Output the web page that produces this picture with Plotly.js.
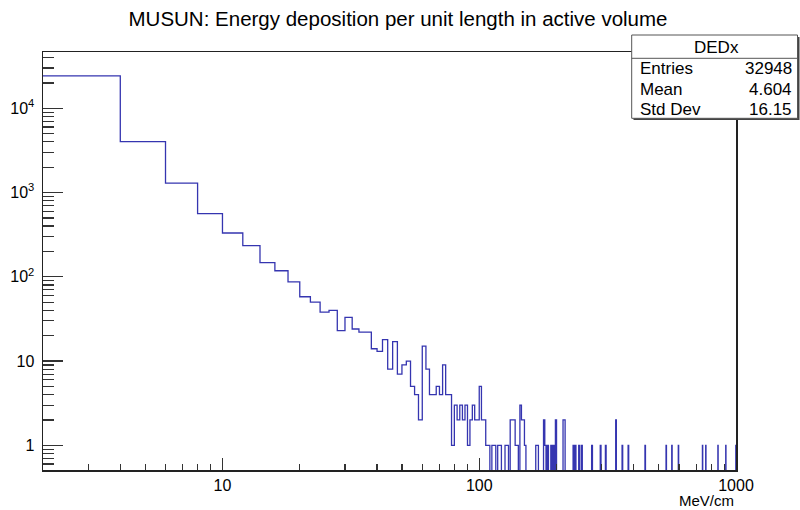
<!DOCTYPE html>
<html><head><meta charset="utf-8">
<script src="https://cdn.plot.ly/plotly-3.0.1.min.js"></script>
<style>html,body{margin:0;padding:0;background:#fff;} #chart{width:800px;height:510px;}</style>
</head><body><div id="chart"></div>
<script>
// ---- histogram binning (MeV/cm) ----
const firstEdge = 2;
const lastEdge = 1000;
const binWidth = 2;

// counts of the bins starting at 2, 4, 6, ..., 108 MeV/cm
const lowBinCounts = [24200,4020,1290,561,331,234,147,118,87,58,50,38,40,23,33,24,22,22,14,13,
  18,8,17,7,9,10,5,4,2,15,8,4,4,5,4,9,4,4,1,3,2,3,2,3,1,2,3,2,2,5,2,2,1,1];

// non-empty bins above 110 MeV/cm: lower bin edge and count (all other bins are empty)
const hiBinStart = [112,114,118,120,126,128,132,134,136,138,140,144,146,148,150,166,168,178,180,184,
  190,194,198,212,214,232,236,244,250,274,296,310,340,360,380,442,534,562,596,740,762,850,912,998];
const hiCounts   = [1,1,1,1,1,1,2,2,2,1,1,3,2,2,1,1,1,2,1,1,
  1,1,2,2,2,1,1,1,1,1,1,1,2,1,1,1,1,1,1,1,1,1,1,1];

// stats box
const statsName = 'DEDx';
const statsLabels = ['Entries','Mean','Std Dev'];
const statsValues = ['32948','4.604','16.15'];

const titleText = 'MUSUN: Energy deposition per unit length in active volume';
const xTitle = 'MeV/cm';
const xTickVals = [10,100,1000];
const xTickText = ['10','100','1000'];
const yTickVals = [1,10,100,1000,10000];
const yTickText = ['1','10','10<sup>2</sup>','10<sup>3</sup>','10<sup>4</sup>'];

// ---- build the step line ----
const nBins = (lastEdge - firstEdge) / binWidth;
const counts = new Array(nBins).fill(0);
lowBinCounts.forEach((c, i) => { counts[i] = c; });
hiBinStart.forEach((s, k) => { counts[(s - firstEdge) / binWidth] = hiCounts[k]; });
const FLOOR = 1e-2; // empty bins drop below the frame bottom (as ROOT draws them)
const xs = [], ys = [];
for (let i = 0; i < nBins; i++) {
  xs.push(firstEdge + i * binWidth);
  ys.push(counts[i] > 0 ? counts[i] : FLOOR);
}
xs.push(lastEdge); ys.push(ys[ys.length - 1]);
xs.push(lastEdge); ys.push(FLOOR);

const trace = {
  type: 'scatter', mode: 'lines', x: xs, y: ys,
  line: {shape: 'hv', color: '#3535b0', width: 1.3, simplify: false},
  hoverinfo: 'skip'
};

const xMinor = [3,4,5,6,7,8,9,20,30,40,50,60,70,80,90,200,300,400,500,600,700,800,900];
const yMinor = [0.6,0.7,0.8,0.9,2,3,4,5,6,7,8,9,20,30,40,50,60,70,80,90,200,300,400,500,600,700,800,900,
  2000,3000,4000,5000,6000,7000,8000,9000,20000,30000,40000];

// plot area in pixels: x 43..736, y 52..470
const L = 43, W = 693, B = 470, H = 418;
const px = v => (v - L) / W;
const py = v => (B - v) / H;

const shapes = [
  {type:'rect', xref:'paper', yref:'paper', x0:px(633.5), x1:px(799.5), y0:py(120), y1:py(37),
   fillcolor:'#444', line:{width:0}, layer:'above'},
  {type:'rect', xref:'paper', yref:'paper', x0:px(631.7), x1:px(797.5), y0:py(118.3), y1:py(35),
   fillcolor:'#fff', line:{color:'#555', width:1}, layer:'above'},
  {type:'line', xref:'paper', yref:'paper', x0:px(631.7), x1:px(797.5), y0:py(58.3), y1:py(58.3),
   line:{color:'#555', width:1}, layer:'above'}
];
const statsY = [68.3, 89.5, 109.5];
const annotations = [
  {xref:'paper', yref:'paper', x:px(716.7), y:py(47), xanchor:'center', yanchor:'middle',
   text:statsName, showarrow:false, font:{size:17, color:'#000'}},
  {xref:'paper', yref:'paper', x:1, y:py(500), xanchor:'right', yanchor:'middle',
   text:xTitle, showarrow:false, font:{size:15, color:'#000'}}
];
statsLabels.forEach((lab, i) => {
  annotations.push({xref:'paper', yref:'paper', x:px(637.5), y:py(statsY[i]), xanchor:'left', yanchor:'middle',
    text:lab, showarrow:false, font:{size:17, color:'#000'}});
  annotations.push({xref:'paper', yref:'paper', x:px(794), y:py(statsY[i]), xanchor:'right', yanchor:'middle',
    text:statsValues[i], showarrow:false, font:{size:17, color:'#000'}});
});

const axisCommon = {
  type:'log', showgrid:false, zeroline:false, showline:true, linecolor:'#222', linewidth:1.5,
  mirror:true, ticks:'inside', tickcolor:'#333', tickwidth:1.2, tickmode:'array',
  tickfont:{size:16, color:'#000'}
};

const layout = {
  width:800, height:510,
  margin:{l:L, r:800 - L - W, t:52, b:510 - B},
  paper_bgcolor:'#fff', plot_bgcolor:'#fff', showlegend:false,
  font:{family:'Liberation Sans, Arial, Helvetica, sans-serif', color:'#000'},
  title:{text:titleText, font:{size:20.5, color:'#000'}, xref:'container', x:0.4975, xanchor:'center',
         yref:'container', y:1 - 19/510, yanchor:'middle'},
  xaxis: Object.assign({}, axisCommon, {
    range:[Math.log10(2), 3], tickvals:xTickVals, ticktext:xTickText, ticklen:12,
    minor:{ticks:'inside', ticklen:6, tickwidth:1.2, tickcolor:'#333', tickmode:'array', tickvals:xMinor}
  }),
  yaxis: Object.assign({}, axisCommon, {
    range:[-0.293, 4.668], tickvals:yTickVals, ticktext:yTickText, ticklen:20, ticklabelstandoff:4,
    minor:{ticks:'inside', ticklen:11, tickwidth:1.2, tickcolor:'#333', tickmode:'array', tickvals:yMinor}
  }),
  shapes: shapes,
  annotations: annotations
};

Plotly.newPlot('chart', [trace], layout, {displayModeBar:false, staticPlot:true});
</script>
</body></html>
